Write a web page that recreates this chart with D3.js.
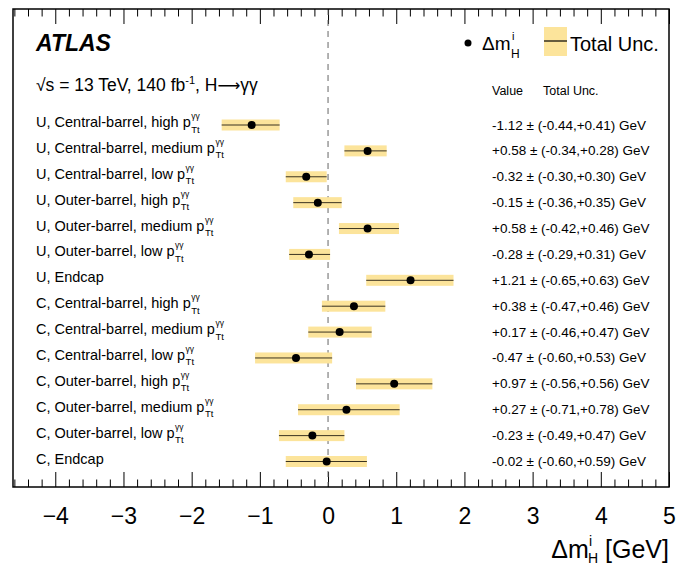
<!DOCTYPE html>
<html>
<head>
<meta charset="utf-8">
<script src="https://cdn.jsdelivr.net/npm/d3@7"></script>
<style>
  body { margin: 0; background: #fff; }
  text { font-family: "Liberation Sans", Arial, Helvetica, sans-serif; }
</style>
</head>
<body>
<div id="chart"></div>
<script>
// category labels (" p" endings get the pTt super/subscript)
var labels = [
    "U, Central-barrel, high p",
    "U, Central-barrel, medium p",
    "U, Central-barrel, low p",
    "U, Outer-barrel, high p",
    "U, Outer-barrel, medium p",
    "U, Outer-barrel, low p",
    "U, Endcap",
    "C, Central-barrel, high p",
    "C, Central-barrel, medium p",
    "C, Central-barrel, low p",
    "C, Outer-barrel, high p",
    "C, Outer-barrel, medium p",
    "C, Outer-barrel, low p",
    "C, Endcap"
];
var values = [-1.12, 0.58, -0.32, -0.15, 0.58, -0.28, 1.21, 0.38, 0.17, -0.47, 0.97, 0.27, -0.23, -0.02];
var errLo  = [0.44, 0.34, 0.30, 0.36, 0.42, 0.29, 0.65, 0.47, 0.46, 0.60, 0.56, 0.71, 0.49, 0.60];
var errHi  = [0.41, 0.28, 0.30, 0.35, 0.46, 0.31, 0.63, 0.46, 0.47, 0.53, 0.56, 0.78, 0.47, 0.59];
var majorTicks = [-4, -3, -2, -1, 0, 1, 2, 3, 4, 5];

var svgWidth = 679;
var svgHeight = 569;
var frame = { left: 13, right: 669, top: 9, bottom: 487 };

var svg = d3.select("#chart")
    .append("svg")
    .attr("width", svgWidth)
    .attr("height", svgHeight);

var xScale = d3.scaleLinear()
    .domain([-4.62, 5])
    .range([frame.left, frame.right]);

var yScale = d3.scaleLinear()
    .domain([0, labels.length - 1])
    .range([125, 461.5]);

var minorTicks = d3.range(-46, 51, 2).map(d => d / 10)
    .filter(d => Math.abs(d - Math.round(d)) > 1e-6);

var bandColor = "#fce49b";
var fmt = d => (d >= 0 ? "+" : "-") + Math.abs(d).toFixed(2);

// axes (ticks drawn inward, bottom and top)
var xBottom = d3.axisBottom(xScale).tickValues(majorTicks).tickSize(-15).tickPadding(32)
    .tickFormat(d3.format("d"));
var xBottomMinor = d3.axisBottom(xScale).tickValues(minorTicks).tickSize(-7.5).tickFormat("");
var xTop = d3.axisTop(xScale).tickValues(majorTicks).tickSize(-15).tickFormat("");
var xTopMinor = d3.axisTop(xScale).tickValues(minorTicks).tickSize(-7.5).tickFormat("");

var gB = svg.append("g").attr("transform", `translate(0, ${frame.bottom})`).call(xBottom);
svg.append("g").attr("transform", `translate(0, ${frame.bottom})`).call(xBottomMinor);
svg.append("g").attr("transform", `translate(0, ${frame.top})`).call(xTop);
svg.append("g").attr("transform", `translate(0, ${frame.top})`).call(xTopMinor);

svg.selectAll(".domain").remove();
svg.selectAll(".tick line").attr("stroke", "#000").attr("stroke-width", 1);
gB.selectAll(".tick text")
    .attr("font-size", "23px")
    .attr("fill", "#000")
    .attr("dy", 0)
    .attr("y", 37);

// zero line
svg.append("line")
    .attr("x1", xScale(0)).attr("x2", xScale(0))
    .attr("y1", frame.top).attr("y2", frame.bottom)
    .attr("stroke", "#666")
    .attr("stroke-width", 1)
    .attr("stroke-dasharray", "6,5");

// uncertainty bands
var rows = svg.append("g").selectAll("g")
    .data(values)
    .enter()
    .append("g");

rows.append("rect")
    .attr("x", (d, i) => xScale(d - errLo[i]))
    .attr("width", (d, i) => xScale(d + errHi[i]) - xScale(d - errLo[i]))
    .attr("y", (d, i) => yScale(i) - 5.5)
    .attr("height", 11)
    .attr("fill", bandColor);

rows.append("line")
    .attr("x1", (d, i) => xScale(d - errLo[i]))
    .attr("x2", (d, i) => xScale(d + errHi[i]))
    .attr("y1", (d, i) => yScale(i))
    .attr("y2", (d, i) => yScale(i))
    .attr("stroke", "#3b3320")
    .attr("stroke-width", 1);

rows.append("circle")
    .attr("cx", d => xScale(d))
    .attr("cy", (d, i) => yScale(i))
    .attr("r", 4)
    .attr("fill", "#000");

// row labels
labels.forEach(function(lab, i) {
    var t = svg.append("text")
        .attr("x", 36)
        .attr("y", yScale(i) + 2)
        .attr("font-size", "14.5px")
        .text(lab);
    if (lab.endsWith(" p")) {
        var w = t.node().getComputedTextLength();
        svg.append("text")
            .attr("x", 36 + w + 0.5)
            .attr("y", yScale(i) - 6)
            .attr("font-size", "8.5px")
            .text("γγ");
        svg.append("text")
            .attr("x", 36 + w + 0.5)
            .attr("y", yScale(i) + 7.5)
            .attr("font-size", "9.5px")
            .text("Tt");
    }
});

// value column
svg.append("g").selectAll("text")
    .data(values)
    .enter()
    .append("text")
    .attr("x", 492)
    .attr("y", (d, i) => yScale(i) + 4.5)
    .attr("font-size", "13.5px")
    .text((d, i) => `${fmt(d)} ± (-${errLo[i].toFixed(2)},+${errHi[i].toFixed(2)}) GeV`);

svg.append("text").attr("x", 492).attr("y", 95).attr("font-size", "12.5px").text("Value");
svg.append("text").attr("x", 543).attr("y", 95).attr("font-size", "12.5px").text("Total Unc.");

// ATLAS label
svg.append("text")
    .attr("x", 36).attr("y", 51)
    .attr("font-size", "23px")
    .attr("font-weight", "bold")
    .attr("font-style", "italic")
    .text("ATLAS");

var info = svg.append("text")
    .attr("x", 36).attr("y", 91)
    .attr("font-size", "17.5px");
info.append("tspan").text("√s = 13 TeV, 140 fb");
info.append("tspan").attr("font-size", "11px").attr("dy", -7).text("-1");
info.append("tspan").attr("dy", 7).text(", H");
info.append("tspan").style("font-family", "DejaVu Sans").attr("font-size", "16px").text("⟶");
info.append("tspan").text("γγ");

// legend
svg.append("circle").attr("cx", 468).attr("cy", 43).attr("r", 3.5).attr("fill", "#000");
svg.append("text").attr("x", 482).attr("y", 50).attr("font-size", "19px").text("Δm");
svg.append("text").attr("x", 512).attr("y", 40).attr("font-size", "11px").text("i");
svg.append("text").attr("x", 511).attr("y", 58).attr("font-size", "12px").text("H");

svg.append("rect").attr("x", 544).attr("y", 27).attr("width", 23).attr("height", 29).attr("fill", bandColor);
svg.append("line").attr("x1", 544).attr("x2", 567).attr("y1", 41).attr("y2", 41)
    .attr("stroke", "#000").attr("stroke-width", 1.2);
svg.append("text").attr("x", 570).attr("y", 51).attr("font-size", "20px").text("Total Unc.");

// x-axis title
var xt = svg.append("text")
    .attr("x", 669).attr("y", 558)
    .attr("text-anchor", "end")
    .attr("font-size", "25px");
xt.append("tspan").text("Δm");
xt.append("tspan").attr("font-size", "14px").attr("dy", -12).text("i");
xt.append("tspan").attr("font-size", "14px").attr("dx", -4).attr("dy", 17).text("H");
xt.append("tspan").attr("dy", -5).text(" [GeV]");

// frame
svg.append("rect")
    .attr("x", frame.left).attr("y", frame.top)
    .attr("width", frame.right - frame.left)
    .attr("height", frame.bottom - frame.top)
    .attr("fill", "none")
    .attr("stroke", "#000")
    .attr("stroke-width", 1.5);
</script>
</body>
</html>
